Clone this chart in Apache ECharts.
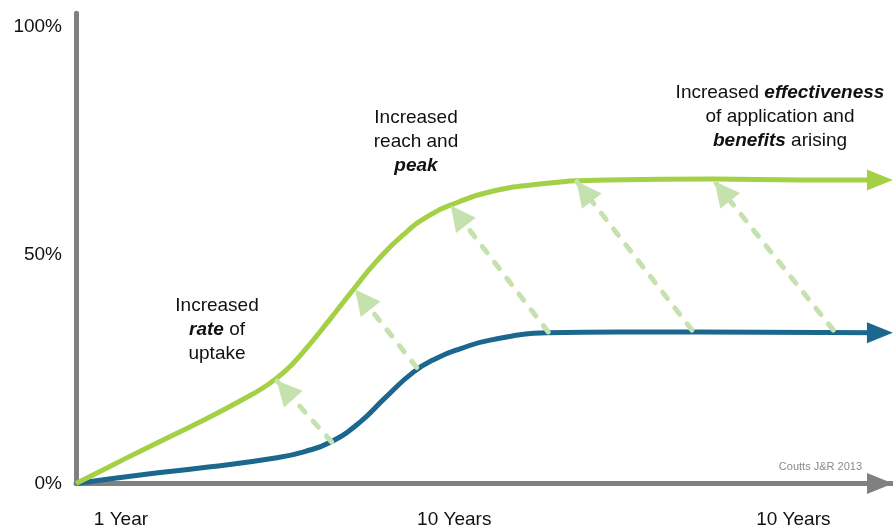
<!DOCTYPE html>
<html>
<head>
<meta charset="utf-8">
<script src="https://cdn.jsdelivr.net/npm/echarts@6/dist/echarts.min.js"></script>
<style>
html, body { margin: 0; padding: 0; background: #fff; }
#main { width: 893px; height: 529px; }
</style>
</head>
<body>
<div id="main"></div>
<script>
// uptake curves (x = time scale 0..100, y = % uptake)
var greenX = [0, 4.2, 8.1, 12.1, 16.2, 20.3, 23.1, 25.6, 27.8, 31.1, 33.9, 36.8, 40.0, 43.3, 46.6, 50.7, 56.8, 65.0, 78.2, 88.6, 98.4];
var greenY = [0, 3.8, 7.3, 10.8, 14.4, 18.3, 21.2, 24.6, 28.8, 36.0, 42.4, 48.7, 54.4, 58.8, 61.5, 63.9, 65.6, 66.5, 66.7, 66.5, 66.5];
var blueX = [0, 8.1, 16.2, 24.4, 28.0, 31.3, 34.8, 37.8, 41.3, 44.2, 47.0, 50.7, 57.7, 66.6, 76.4, 98.4];
var blueY = [0, 1.9, 3.6, 5.6, 7.0, 9.2, 13.5, 18.7, 24.4, 27.5, 29.5, 31.4, 33.0, 33.2, 33.2, 33.0];

// dashed arrows from the blue curve up to the green one
var arrowFrom = [[31.3, 9.1], [41.7, 25.4], [57.8, 33.2], [75.4, 33.6], [92.7, 33.6]];
var arrowTo = [[24.6, 22.5], [34.2, 42.4], [45.9, 60.8], [61.3, 66.1], [78.2, 66.1]];

var xTickPos = [5.5, 46.3, 87.8];
var xTickLabels = ['1 Year', '10 Years', '10 Years'];
var yTicks = [0, 50, 100];

var GREEN = '#a4d046';
var BLUE = '#1b678d';
var LIGHT = '#c5e2ae';
var AXIS = '#808080';
var FONT = '"Liberation Sans", Arial, sans-serif';

function curve(xs, ys, color) {
    var d = [];
    for (var i = 0; i < xs.length; i++) {
        if (i === xs.length - 1) {
            d.push({
                value: [xs[i], ys[i]],
                symbol: 'triangle',
                symbolSize: [21, 26],
                symbolRotate: -90,
                itemStyle: { color: color }
            });
        } else {
            d.push([xs[i], ys[i]]);
        }
    }
    return d;
}

var arrowData = [];
for (var i = 0; i < arrowFrom.length; i++) {
    arrowData.push([{ coord: arrowFrom[i] }, { coord: arrowTo[i] }]);
}

var boldIt = { fontSize: 19, fontFamily: FONT, fontWeight: 'bold', fontStyle: 'italic', fill: '#111', color: '#111' };

function note(text, x, y) {
    return {
        type: 'text',
        x: x,
        y: y,
        silent: true,
        style: {
            text: text,
            font: '19px ' + FONT,
            fill: '#111',
            align: 'center',
            verticalAlign: 'middle',
            lineHeight: 24,
            rich: { b: boldIt }
        }
    };
}

var dom = document.getElementById('main');
var myChart = echarts.init(dom);
var option = {
    animation: false,
    backgroundColor: '#fff',
    grid: {
        left: 76,
        right: 0,
        top: 13.3,
        bottom: 45.5,
        outerBoundsMode: 'none'
    },
    xAxis: {
        type: 'value',
        min: 0,
        max: 100,
        splitLine: { show: false },
        axisTick: { show: false },
        axisLine: {
            lineStyle: { color: AXIS, width: 5 },
            symbol: ['none', 'triangle'],
            symbolSize: [21, 26],
            symbolOffset: [0, -13]
        },
        axisLabel: {
            customValues: xTickPos,
            margin: 27,
            fontSize: 19,
            fontFamily: FONT,
            color: '#111',
            formatter: function (v) {
                var best = 0;
                for (var k = 1; k < xTickPos.length; k++) {
                    if (Math.abs(xTickPos[k] - v) < Math.abs(xTickPos[best] - v)) best = k;
                }
                return xTickLabels[best];
            }
        }
    },
    yAxis: {
        type: 'value',
        min: 0,
        max: 103,
        splitLine: { show: false },
        axisTick: { show: false },
        axisLine: {
            lineStyle: { color: AXIS, width: 5, cap: 'round' }
        },
        axisLabel: {
            customValues: yTicks,
            margin: 14,
            fontSize: 19,
            fontFamily: FONT,
            color: '#111',
            formatter: '{value}%'
        }
    },
    series: [
        {
            name: 'arrows',
            type: 'line',
            data: [],
            markLine: {
                silent: true,
                animation: false,
                symbol: ['none', 'triangle'],
                symbolSize: 25,
                symbolOffset: [0, [0, 12]],
                label: { show: false },
                itemStyle: { color: LIGHT },
                lineStyle: { color: LIGHT, width: 5, type: [8, 12], cap: 'round' },
                emphasis: { disabled: true },
                data: arrowData
            }
        },
        {
            name: 'blue',
            type: 'line',
            smooth: 0.5,
            symbol: 'none',
            silent: true,
            lineStyle: { color: BLUE, width: 5 },
            itemStyle: { color: BLUE },
            data: curve(blueX, blueY, BLUE)
        },
        {
            name: 'green',
            type: 'line',
            smooth: 0.5,
            symbol: 'none',
            silent: true,
            lineStyle: { color: GREEN, width: 5 },
            itemStyle: { color: GREEN },
            data: curve(greenX, greenY, GREEN)
        }
    ],
    graphic: [
        note('Increased\n{b|rate} of\nuptake', 217, 330),
        note('Increased\nreach and\n{b|peak}', 416, 142),
        note('Increased {b|effectiveness}\nof application and\n{b|benefits} arising', 780, 117),
        {
            type: 'text',
            x: 862,
            y: 467,
            silent: true,
            style: {
                text: 'Coutts J&R 2013',
                font: '11px ' + FONT,
                fill: '#8a8a8a',
                align: 'right',
                verticalAlign: 'middle'
            }
        }
    ]
};
myChart.setOption(option, true);
</script>
</body>
</html>
